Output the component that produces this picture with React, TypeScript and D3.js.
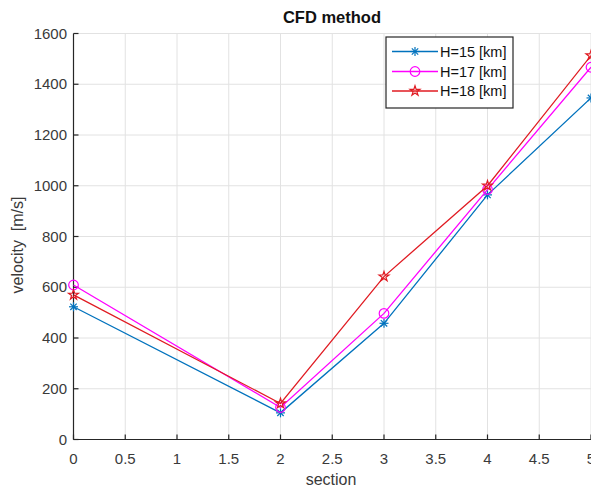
import React from "react";
import * as d3 from "d3";

const sections = [0, 2, 3, 4, 5];
const h15 = [523, 105, 458, 964, 1346];
const h17 = [609, 126, 497, 985, 1467];
const h18 = [570, 142, 642, 1000, 1513];
const seriesNames = ["H=15 [km]", "H=17 [km]", "H=18 [km]"];
const xTicks = [0, 0.5, 1, 1.5, 2, 2.5, 3, 3.5, 4, 4.5, 5];
const yTicks = [0, 200, 400, 600, 800, 1000, 1200, 1400, 1600];

const W = 591;
const H = 489;
const L = 73.5;
const R = 591;
const T = 33.5;
const B = 439.5;
const FONT = "'Liberation Sans', Arial, Helvetica, sans-serif";
const AX = "#262626";

const colors = ["#0072BD", "#FF00FF", "#E01B22"];

function Marker({ kind, x, y, color }: { kind: string; x: number; y: number; color: string }) {
  if (kind === "star") {
    const r = 4.5;
    const lines = [0, 45, 90, 135].map((a) => {
      const rad = (a * Math.PI) / 180;
      return (
        <line key={a} x1={x - r * Math.cos(rad)} y1={y - r * Math.sin(rad)} x2={x + r * Math.cos(rad)} y2={y + r * Math.sin(rad)} stroke={color} strokeWidth={1.2} />
      );
    });
    return <g>{lines}</g>;
  }
  if (kind === "circle") {
    return <circle cx={x} cy={y} r={4.8} fill="none" stroke={color} strokeWidth={1.2} />;
  }
  const ro = 5.2;
  const ri = ro * 0.382;
  const pts: [number, number][] = [];
  for (let i = 0; i < 10; i++) {
    const a = -Math.PI / 2 + (i * Math.PI) / 5;
    const rr = i % 2 === 0 ? ro : ri;
    pts.push([x + rr * Math.cos(a), y + rr * Math.sin(a)]);
  }
  return <polygon points={pts.map((p) => p.join(",")).join(" ")} fill="none" stroke={color} strokeWidth={1.2} />;
}

export default function App() {
  const x = d3.scaleLinear().domain([0, 5]).range([L, R]);
  const y = d3.scaleLinear().domain([0, 1600]).range([B, T]);
  const line = d3
    .line<number>()
    .x((_, i) => x(sections[i]))
    .y((d) => y(d));
  const data = [h15, h17, h18];
  const kinds = ["star", "circle", "pent"];

  const legX = 386;
  const legY = 37;
  const legW = 127;
  const legH = 71;
  const rowYs = [51.5, 71.5, 91];

  return (
    <svg width={W} height={H} style={{ position: "absolute", left: 0, top: 0, background: "#fff" }} fontFamily={FONT}>
      <rect x={0} y={0} width={W} height={H} fill="#fff" />
      {xTicks.map((t) => (
        <line key={"gx" + t} x1={x(t)} x2={x(t)} y1={T} y2={B} stroke="#e2e2e2" strokeWidth={1} />
      ))}
      {yTicks.map((t) => (
        <line key={"gy" + t} x1={L} x2={R} y1={y(t)} y2={y(t)} stroke="#e2e2e2" strokeWidth={1} />
      ))}
      <line x1={L} x2={L} y1={T} y2={B} stroke={AX} strokeWidth={1.2} />
      <line x1={L} x2={R} y1={B} y2={B} stroke={AX} strokeWidth={1.2} />
      {xTicks.map((t) => (
        <g key={"tx" + t}>
          <line x1={x(t)} x2={x(t)} y1={B} y2={B - 5} stroke={AX} strokeWidth={1.2} />
          <text x={x(t)} y={463.5} textAnchor="middle" fontSize={15} fill="#3a3a3a">
            {String(t)}
          </text>
        </g>
      ))}
      {yTicks.map((t) => (
        <g key={"ty" + t}>
          <line x1={L} x2={L + 5} y1={y(t)} y2={y(t)} stroke={AX} strokeWidth={1.2} />
          <text x={67} y={y(t) + 5} textAnchor="end" fontSize={15} fill="#3a3a3a">
            {String(t)}
          </text>
        </g>
      ))}
      {data.map((s, si) => (
        <g key={"s" + si}>
          <path d={line(s) || ""} fill="none" stroke={colors[si]} strokeWidth={1.3} />
          {s.map((v, i) => (
            <Marker key={i} kind={kinds[si]} x={x(sections[i])} y={y(v)} color={colors[si]} />
          ))}
        </g>
      ))}
      <text x={332} y={23} textAnchor="middle" fontSize={16.5} fontWeight="bold" fill="#111">
        CFD method
      </text>
      <text x={331} y={485} textAnchor="middle" fontSize={16} fill="#3a3a3a">
        section
      </text>
      <text transform="translate(23,245) rotate(-90)" textAnchor="middle" fontSize={16} fill="#3a3a3a" xmlSpace="preserve">
        velocity  [m/s]
      </text>
      <rect x={legX} y={legY} width={legW} height={legH} fill="#fff" stroke={AX} strokeWidth={1.2} />
      {seriesNames.map((n, i) => (
        <g key={"l" + i}>
          <line x1={392} x2={438} y1={rowYs[i]} y2={rowYs[i]} stroke={colors[i]} strokeWidth={1.3} />
          <Marker kind={kinds[i]} x={415} y={rowYs[i]} color={colors[i]} />
          <text x={440} y={rowYs[i] + 5} fontSize={14.5} fill="#111">
            {n}
          </text>
        </g>
      ))}
    </svg>
  );
}
